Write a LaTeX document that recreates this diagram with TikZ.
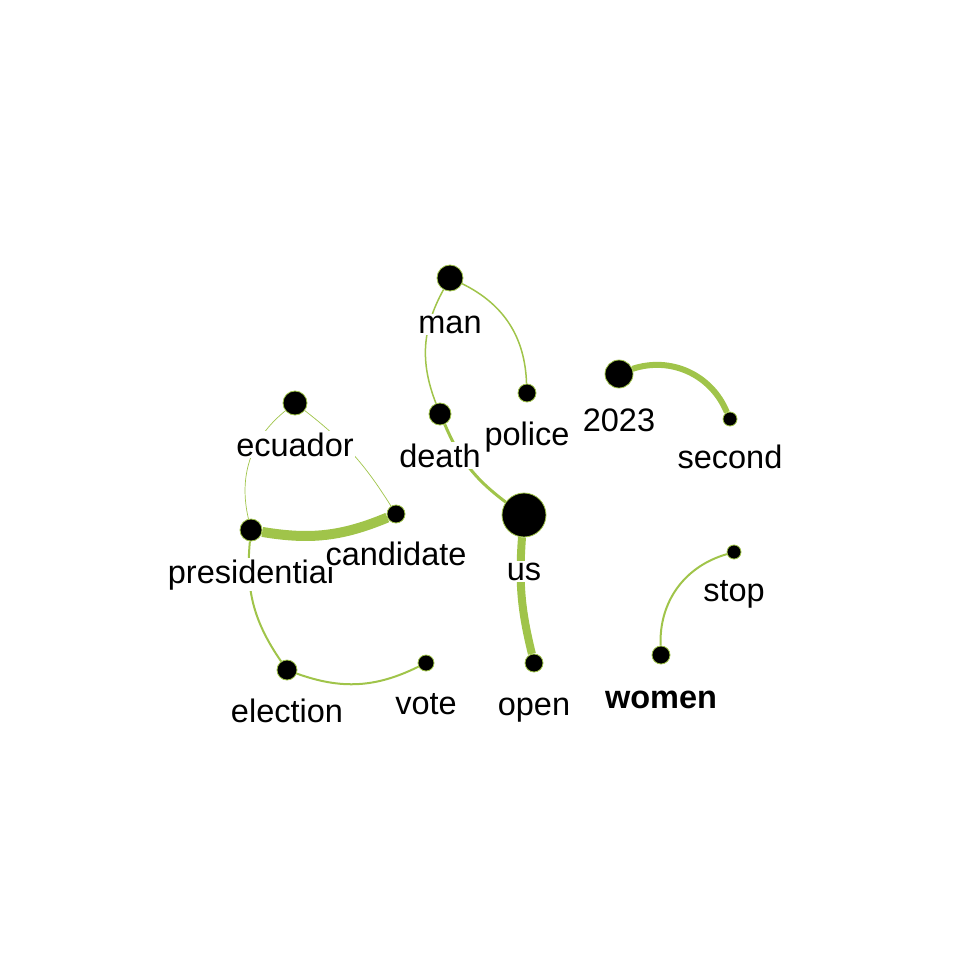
\documentclass[tikz,border=0pt]{standalone}
\usepackage{fontspec}
\setmainfont{Liberation Sans}
\pgfdeclarelayer{background}
\pgfsetlayers{background,main}
\definecolor{leaf}{RGB}{160,196,74}
% x/y/name/size/baseline of the label
\def\wordlist{450/278/man/26/333, 527/393/police/18/445, 440/414/death/22/467,
  524/515/us/44/580, 534/663/open/18/715, 619/374/2023/28/431, 730/419/second/14/468,
  295/403/ecuador/24/456, 251/530/presidential/22/583, 396/514/candidate/18/565,
  287/670/election/20/722, 426/663/vote/16/714, 734/552/stop/14/601}
% source/dest/width/bend (negative = bend right)
\def\linklist{man/death/1.5/-25, man/police/1.5/31, death/us/3/-15, us/open/8/-9,
  2023/second/6/43, ecuador/presidential/0.7/-32, ecuador/candidate/0.7/10,
  presidential/candidate/10/-16, presidential/election/2/-20, election/vote/2/-23,
  stop/women/2/-38}
\tikzstyle{vertex}=[circle,fill=black,draw=leaf,line width=0.8pt,inner sep=0pt]
\tikzstyle{word}=[anchor=base,fill=white,inner sep=1.5pt,font=\fontsize{32.5}{39}\selectfont]
\tikzstyle{edge} = [draw,leaf,-]

\begin{document}
\begin{tikzpicture}[x=1pt,y=-1pt]
  \useasboundingbox (0,0) rectangle (972,972);
  % First we draw the vertices
  \foreach \x/\y/\name/\size/\base in \wordlist {
    \node[vertex,minimum size=\size pt] (\name) at (\x,\y) {};
    \node[word] (\name-lab) at (\x,\base) {\name};
  }
  \node[vertex,minimum size=18pt] (women) at (661,655) {};
  \node[word,font=\fontsize{32.5}{39}\selectfont\bfseries] (women-lab) at (661,708) {women};

  % Connect vertices with edges
  \begin{pgfonlayer}{background}
    \foreach \source/\dest/\w/\bend in \linklist
      \path[edge,line width=\w pt] (\source) to[bend left=\bend] (\dest);
  \end{pgfonlayer}
\end{tikzpicture}
\end{document}
